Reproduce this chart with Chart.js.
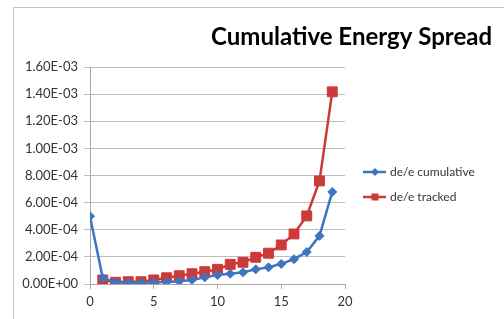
<!DOCTYPE html>
<html>
<head>
<meta charset="utf-8">
<script src="https://cdn.jsdelivr.net/npm/chart.js@4/dist/chart.umd.min.js"></script>
<style>
    html, body { margin: 0; padding: 0; background: #fff; }
    #frame {
        position: absolute; left: 13px; top: 7px;
        width: 491px; height: 312px;
        border-left: 1px solid #c4c4c4; border-top: 1px solid #c4c4c4;
    }
    #chart { display: block; }
</style>
</head>
<body>
<div id="frame"><canvas id="chart" width="490" height="311"></canvas></div>
<script>
// Chart data
const chartTitle = 'Cumulative Energy Spread';
const steps = [0, 1, 2, 3, 4, 5, 6, 7, 8, 9, 10, 11, 12, 13, 14, 15, 16, 17, 18, 19];
const cumulative = [5.0e-4, 4.4e-5, 1.2e-5, 1.0e-5, 1.0e-5, 1.2e-5, 1.4e-5, 2.0e-5, 3.0e-5, 4.9e-5,
                    6.6e-5, 7.6e-5, 8.6e-5, 1.08e-4, 1.23e-4, 1.48e-4, 1.83e-4, 2.36e-4, 3.55e-4, 6.79e-4];
const tracked = [null, 3.0e-5, 1.3e-5, 1.7e-5, 1.7e-5, 3.0e-5, 4.6e-5, 6.1e-5, 7.6e-5, 9.1e-5,
                 1.08e-4, 1.45e-4, 1.6e-4, 1.97e-4, 2.27e-4, 2.88e-4, 3.69e-4, 5.02e-4, 7.6e-4, 1.417e-3];
const seriesNames = ['de/e cumulative', 'de/e tracked'];
const yMax = 1.6e-3, yStep = 2e-4;
const xMax = 20, xStep = 5;

const blue = '#3f74c2';
const red = '#cc3a38';
const font = 'Lato, "Open Sans", sans-serif';

function sci(v) {
    // Excel style 0.00E+00
    let [m, e] = Number(v).toExponential(2).split('e');
    const sign = e[0] === '-' ? '-' : '+';
    e = e.replace(/[+-]/, '').padStart(2, '0');
    return (m + 'E' + sign + e).toUpperCase();
}

const toPoints = (vals) => steps.map((x, i) => ({ x: x, y: vals[i] }));

// Title and line-with-marker legend, drawn in the reserved margins
const extras = {
    id: 'extras',
    afterDraw(chart) {
        const ctx = chart.ctx;
        ctx.save();
        ctx.fillStyle = '#000';
        ctx.font = 'bold 24px ' + font;
        ctx.textAlign = 'right';
        ctx.textBaseline = 'middle';
        ctx.fillText(chartTitle, 478, 29);

        const rows = [164, 189];
        chart.data.datasets.forEach((ds, i) => {
            const y = rows[i];
            ctx.strokeStyle = ds.borderColor;
            ctx.lineWidth = 2.5;
            ctx.beginPath();
            ctx.moveTo(349, y);
            ctx.lineTo(372, y);
            ctx.stroke();
            ctx.fillStyle = ds.borderColor;
            const cx = 361;
            if (ds.pointStyle === 'rect') {
                ctx.fillRect(cx - 3.5, y - 3.5, 7, 7);
            } else {
                ctx.beginPath();
                ctx.moveTo(cx, y - 4); ctx.lineTo(cx + 4, y);
                ctx.lineTo(cx, y + 4); ctx.lineTo(cx - 4, y);
                ctx.closePath(); ctx.fill();
            }
            ctx.fillStyle = '#333';
            ctx.font = '12px ' + font;
            ctx.textAlign = 'left';
            ctx.fillText(ds.label, 376, y);
        });
        ctx.restore();
    }
};

new Chart(document.getElementById('chart'), {
    type: 'line',
    data: {
        datasets: [
            { label: seriesNames[0], data: toPoints(cumulative), borderColor: blue, backgroundColor: blue,
              borderWidth: 2.5, pointStyle: 'rectRot', pointRadius: 4.5, pointBorderWidth: 1 },
            { label: seriesNames[1], data: toPoints(tracked), borderColor: red, backgroundColor: red,
              borderWidth: 2.5, pointStyle: 'rect', pointRadius: 7, pointBorderWidth: 1 }
        ]
    },
    options: {
        responsive: false,
        animation: false,
        spanGaps: false,
        layout: { padding: { top: 59, right: 159, bottom: 0, left: 0 } },
        plugins: { legend: { display: false }, title: { display: false }, tooltip: { enabled: false } },
        scales: {
            x: {
                type: 'linear', min: 0, max: xMax,
                ticks: { stepSize: xStep, color: '#333', font: { family: font, size: 13 }, padding: 5 },
                grid: { drawOnChartArea: false, drawTicks: true, tickLength: 5, color: '#a8a8a8' },
                border: { color: '#a8a8a8' },
                afterFit: (s) => { s.height = 35; }
            },
            y: {
                min: 0, max: yMax,
                ticks: { stepSize: yStep, color: '#333', font: { family: font, size: 13 }, padding: 6,
                         callback: (v) => sci(v) },
                grid: { color: '#bdbdbd', tickLength: 6 },
                border: { color: '#a8a8a8' },
                afterFit: (s) => { s.width = 76; }
            }
        }
    },
    plugins: [extras]
});
</script>
</body>
</html>
